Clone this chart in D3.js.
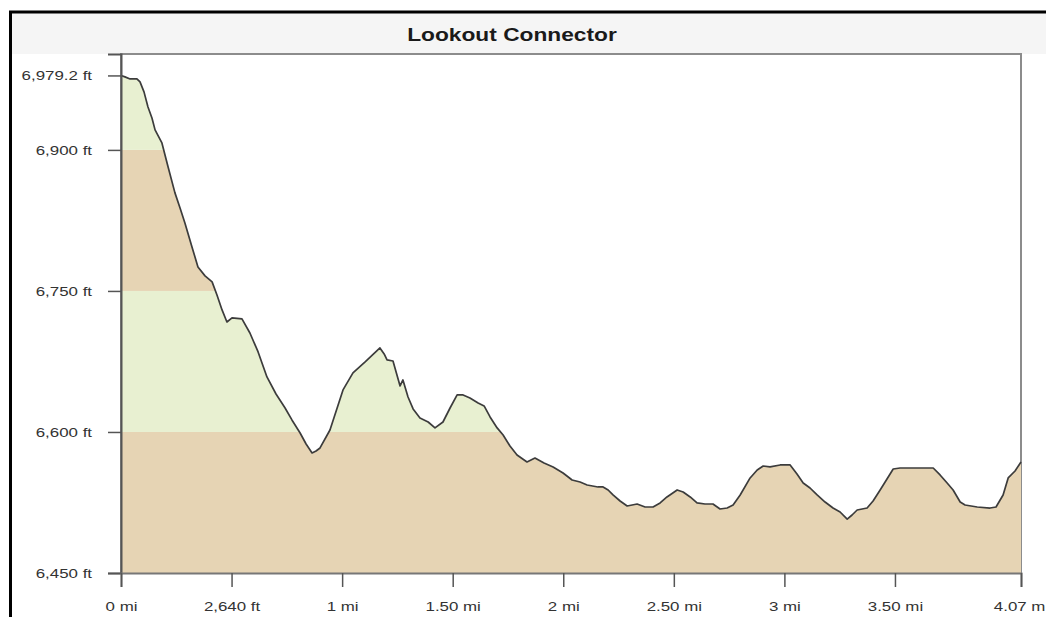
<!DOCTYPE html>
<html>
<head>
<meta charset="utf-8">
<script src="https://cdn.jsdelivr.net/npm/d3@7"></script>
<style>
  html, body { margin: 0; padding: 0; background: #fff; }
  svg { display: block; font-family: "Liberation Sans", Arial, sans-serif; }
</style>
</head>
<body>
<div id="chart"></div>
<script>
// distance along trail (mi) and elevation (ft)
const distances = [
  0, 0.018, 0.041, 0.072, 0.086, 0.104, 0.122, 0.140, 0.154, 0.185,
  0.213, 0.244, 0.267, 0.289, 0.321, 0.348, 0.380, 0.412, 0.434, 0.457,
  0.479, 0.502, 0.547, 0.583, 0.620, 0.660, 0.701, 0.742, 0.773, 0.810,
  0.837, 0.864, 0.882, 0.900, 0.945, 1.004, 1.049, 1.104, 1.171, 1.190,
  1.203, 1.230, 1.262, 1.275, 1.298, 1.321, 1.352, 1.389, 1.420, 1.456,
  1.488, 1.520, 1.547, 1.578, 1.615, 1.642, 1.669, 1.701, 1.728, 1.759,
  1.791, 1.836, 1.872, 1.913, 1.954, 1.999, 2.040, 2.076, 2.108, 2.157,
  2.180, 2.203, 2.225, 2.257, 2.289, 2.334, 2.370, 2.406, 2.438, 2.469,
  2.515, 2.542, 2.574, 2.605, 2.641, 2.677, 2.709, 2.741, 2.768, 2.800,
  2.845, 2.877, 2.904, 2.935, 2.981, 3.026, 3.057, 3.085, 3.116, 3.148,
  3.184, 3.220, 3.252, 3.284, 3.306, 3.329, 3.374, 3.401, 3.433, 3.464,
  3.492, 3.523, 3.591, 3.673, 3.704, 3.736, 3.763, 3.795, 3.817, 3.872,
  3.930, 3.957, 3.989, 4.012, 4.043, 4.070
];
const elevations = [
  6979.2, 6977.7, 6975.5, 6975.5, 6972.3, 6961.7, 6945.7, 6934.0, 6921.3, 6907.4,
  6881.9, 6854.3, 6838.3, 6822.3, 6796.8, 6775.5, 6766.0, 6759.6, 6745.7, 6729.8,
  6717.0, 6721.3, 6720.2, 6705.3, 6685.1, 6658.5, 6640.4, 6625.5, 6612.8, 6598.9,
  6587.2, 6577.7, 6579.8, 6583.0, 6602.1, 6644.7, 6662.8, 6674.5, 6689.4, 6683.0,
  6676.6, 6675.5, 6648.9, 6655.3, 6637.2, 6624.5, 6614.9, 6610.6, 6604.3, 6610.6,
  6625.5, 6639.4, 6639.4, 6636.2, 6630.9, 6627.7, 6616.0, 6604.3, 6596.8, 6585.1,
  6575.5, 6568.1, 6572.3, 6567.0, 6562.8, 6556.4, 6548.9, 6546.8, 6543.6, 6541.5,
  6541.5, 6538.3, 6533.0, 6526.6, 6521.3, 6523.4, 6520.2, 6520.2, 6524.5, 6530.9,
  6538.3, 6536.2, 6530.9, 6524.5, 6523.4, 6523.4, 6518.1, 6519.1, 6522.3, 6533.0,
  6551.1, 6559.6, 6563.8, 6562.8, 6564.9, 6564.9, 6555.3, 6545.7, 6540.4, 6533.0,
  6525.5, 6519.1, 6514.9, 6507.4, 6511.7, 6517.0, 6519.1, 6526.6, 6538.3, 6550.0,
  6560.6, 6561.7, 6561.7, 6561.7, 6554.3, 6545.7, 6538.3, 6525.5, 6522.3, 6520.2,
  6519.1, 6520.2, 6533.0, 6551.1, 6558.5, 6568.1
];

const yTickValues = [6450, 6600, 6750, 6900, 6979.2];
const yTickLabels = ["6,450 ft", "6,600 ft", "6,750 ft", "6,900 ft", "6,979.2 ft"];
const xTickValues = [0, 0.5, 1, 1.5, 2, 2.5, 3, 3.5, 4.07];
const xTickLabels = ["0 mi", "2,640 ft", "1 mi", "1.50 mi", "2 mi", "2.50 mi", "3 mi", "3.50 mi", "4.07 mi"];

// alternating elevation bands drawn under the profile
const bandEdges = [6450, 6600, 6750, 6900, 7002];
const bandColors = ["#e6d4b4", "#e8f0d1", "#e6d4b4", "#e8f0d1"];

const titleText = "Lookout Connector";

const width = 1046, height = 617;
const plot = { left: 121, right: 1021, top: 54, bottom: 573 };
const stretch = 1.3; // the source image is wider than tall, text looks stretched

const data = distances.map((d, i) => ({ mi: d, ft: elevations[i] }));

const x = d3.scaleLinear().domain([0, 4.07]).range([plot.left, plot.right]);
const y = d3.scaleLinear().domain([6450, 7002]).range([plot.bottom, plot.top]);

const svg = d3.select("#chart").append("svg")
  .attr("width", width)
  .attr("height", height);

svg.append("rect")
  .attr("width", width).attr("height", height)
  .attr("fill", "#fff");

// title band
svg.append("rect")
  .attr("x", 10).attr("y", 12)
  .attr("width", width - 10).attr("height", plot.top - 12)
  .attr("fill", "#f5f5f5");

svg.append("text")
  .attr("transform", `translate(512,41) scale(${stretch},1)`)
  .attr("text-anchor", "middle")
  .attr("font-size", 17.5)
  .attr("font-weight", "bold")
  .attr("fill", "#1a1a1a")
  .text(titleText);

// plot background + frame
svg.append("rect")
  .attr("x", plot.left).attr("y", plot.top)
  .attr("width", plot.right - plot.left).attr("height", plot.bottom - plot.top)
  .attr("fill", "#fff")
  .attr("stroke", "#8c8c8c")
  .attr("stroke-width", 2);

const area = d3.area()
  .x(d => x(d.mi))
  .y0(plot.bottom)
  .y1(d => y(d.ft));

const line = d3.line()
  .x(d => x(d.mi))
  .y(d => y(d.ft));

svg.append("clipPath")
  .attr("id", "under-profile")
  .append("path")
  .attr("d", area(data));

svg.append("g")
  .attr("clip-path", "url(#under-profile)")
  .selectAll("rect")
  .data(bandColors)
  .enter().append("rect")
  .attr("x", plot.left)
  .attr("width", plot.right - plot.left)
  .attr("y", (c, i) => y(bandEdges[i + 1]))
  .attr("height", (c, i) => y(bandEdges[i]) - y(bandEdges[i + 1]))
  .attr("fill", c => c);

svg.append("path")
  .attr("d", line(data))
  .attr("fill", "none")
  .attr("stroke", "#3c3c3c")
  .attr("stroke-width", 1.7)
  .attr("stroke-linejoin", "round");

// y axis
const yAxis = svg.append("g")
  .attr("transform", `translate(${plot.left},0)`)
  .call(d3.axisLeft(y)
    .tickValues(yTickValues)
    .tickSize(13)
    .tickPadding(16)
    .tickFormat((d, i) => yTickLabels[i]));

yAxis.select(".domain").attr("stroke", "#555").attr("stroke-width", 2);
yAxis.selectAll(".tick line").attr("stroke", "#555").attr("stroke-width", 1.5);
yAxis.selectAll(".tick text")
  .attr("font-size", 13)
  .attr("fill", "#333")
  .attr("x", -29 / stretch)
  .attr("transform", `scale(${stretch},1)`);

// x axis
const xAxis = svg.append("g")
  .attr("transform", `translate(0,${plot.bottom})`)
  .call(d3.axisBottom(x)
    .tickValues(xTickValues)
    .tickSize(14)
    .tickPadding(15)
    .tickFormat((d, i) => xTickLabels[i]));

xAxis.select(".domain").attr("stroke", "#777").attr("stroke-width", 2);
xAxis.selectAll(".tick line").attr("stroke", "#555").attr("stroke-width", 1.5);
xAxis.selectAll(".tick text")
  .attr("font-size", 13)
  .attr("fill", "#333")
  .attr("transform", `scale(${stretch},1)`);

// outer black frame (top and left)
svg.append("line")
  .attr("x1", 9).attr("x2", width)
  .attr("y1", 12).attr("y2", 12)
  .attr("stroke", "#000").attr("stroke-width", 3);
svg.append("line")
  .attr("x1", 10.5).attr("x2", 10.5)
  .attr("y1", 11).attr("y2", height)
  .attr("stroke", "#000").attr("stroke-width", 3);
</script>
</body>
</html>
